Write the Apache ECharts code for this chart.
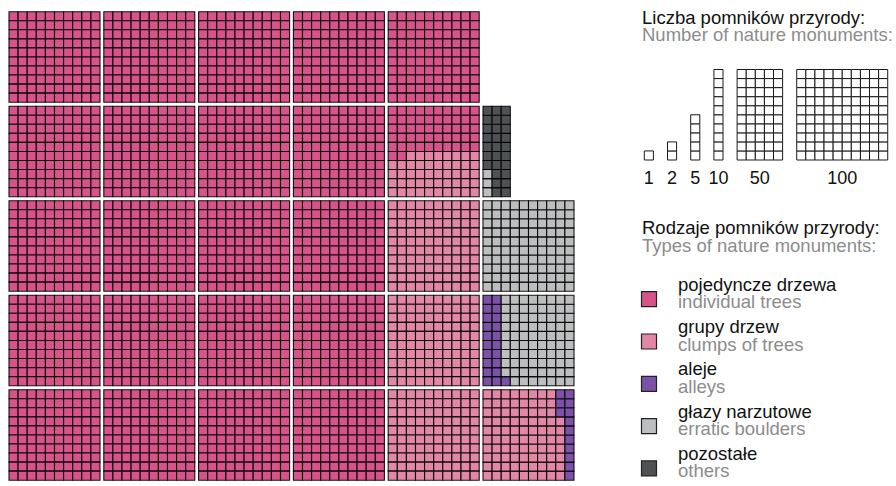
<!DOCTYPE html>
<html>
<head>
<meta charset="utf-8">
<script src="https://cdn.jsdelivr.net/npm/echarts@6/dist/echarts.min.js"></script>
<style>
html, body { margin: 0; padding: 0; background: #fff; }
#chart { width: 896px; height: 486px; }
</style>
</head>
<body>
<div id="chart"></div>
<script>
// kinds of nature monuments, in the order the waffle is filled
const categoriesPl = ['pojedyncze drzewa', 'grupy drzew', 'aleje', 'głazy narzutowe', 'pozostałe'];
const categoriesEn = ['individual trees', 'clumps of trees', 'alleys', 'erratic boulders', 'others'];
const counts = [2152, 435, 34, 182, 27];
const colors = ['#d6548a', '#e287a5', '#7b52a8', '#bdbebf', '#4f5254'];
// size key in the top right corner
const scaleValues = [1, 2, 5, 10, 50, 100];

const FONT = '"Liberation Sans", Arial, sans-serif';
const FS = 18.5;
const W = 896, H = 486;
const UX = 9.1, UY = 9.05;   // px per cell

// slot order: first five block columns top-down (rows inside a block),
// the last block column bottom-up, column by column
function waffleSlots(total) {
    const slots = [];
    const ox = 9 / UX, oy = 11.7 / UY;
    const gx = 3.8 / UX, gy = 4 / UY;
    const pos = (br, bc, r, c) => [ox + bc * (10 + gx) + c, oy + br * (10 + gy) + r];
    for (let bc = 0; bc < 5; bc++)
        for (let br = 0; br < 5; br++)
            for (let r = 0; r < 10; r++)
                for (let c = 0; c < 10; c++) slots.push(pos(br, bc, r, c));
    for (let br = 4; br >= 0; br--)
        for (let c = 0; c < 10; c++)
            for (let r = 9; r >= 0; r--) slots.push(pos(br, 5, r, c));
    return slots.slice(0, total);
}

const slots = waffleSlots(counts.reduce((a, b) => a + b, 0));

function cellItem(color) {
    return function (params, api) {
        const p = api.coord([api.value(0), api.value(1)]);
        const s = api.size([1, 1]);
        return {
            type: 'rect',
            shape: { x: p[0], y: p[1], width: s[0], height: s[1] },
            style: { fill: color, stroke: 'rgba(0,0,0,0.9)', lineWidth: 1.1 }
        };
    };
}

let start = 0;
const waffleSeries = counts.map((n, i) => {
    const data = slots.slice(start, start + n);
    start += n;
    return {
        type: 'custom',
        name: categoriesPl[i],
        coordinateSystem: 'cartesian2d',
        encode: { x: 0, y: 1 },
        data: data,
        silent: true,
        renderItem: cellItem(colors[i])
    };
});

// size key: little stacks of empty cells with their number underneath
const scaleBottom = 160 / UY;
const scaleGap = 1.55;
let sx = 644.3 / UX;
const scaleData = scaleValues.map(v => {
    const item = [v, sx];
    sx += Math.ceil(v / 10) + scaleGap;
    return item;
});

function scaleItem(params, api) {
    const v = api.value(0), x0 = api.value(1);
    const s = api.size([1, 1]);
    const children = [];
    for (let k = 0; k < v; k++) {
        const c = Math.floor(k / 10), r = k % 10;
        const p = api.coord([x0 + c, scaleBottom - r - 1]);
        children.push({
            type: 'rect',
            shape: { x: p[0], y: p[1], width: s[0], height: s[1] },
            style: { fill: '#fff', stroke: '#1a1a1a', lineWidth: 1 }
        });
    }
    const lp = api.coord([x0 + Math.ceil(v / 10) / 2, scaleBottom]);
    children.push({
        type: 'text', x: lp[0], y: lp[1] + 18,
        style: { text: String(v), fontSize: 18, fontFamily: FONT, fill: '#111', align: 'center', verticalAlign: 'middle' }
    });
    return { type: 'group', children: children };
}

// two-line label: Polish in black, English in grey
const richLines = {
    pl: { fontSize: FS, fontFamily: FONT, fill: '#111', lineHeight: 17.5 },
    en: { fontSize: FS, fontFamily: FONT, fill: '#8c8c8c', lineHeight: 17.5 }
};
const twoLines = (pl, en) => '{pl|' + pl + '}\n{en|' + en + '}';

// category key below it
const legendTop = 291.7, legendPitch = 42.3;
function legendItem(params, api) {
    const i = api.value(0);
    const y = legendTop + i * legendPitch;
    return {
        type: 'group',
        children: [
            { type: 'rect', shape: { x: 641.5, y: y, width: 15, height: 15 },
              style: { fill: colors[i], stroke: '#222', lineWidth: 1.2 } },
            { type: 'text', x: 678, y: y + 7.5 - 6.2,
              style: { text: twoLines(categoriesPl[i], categoriesEn[i]), rich: richLines, verticalAlign: 'middle' } }
        ]
    };
}

const option = {
    animation: false,
    grid: { left: 0, right: 0, top: 0, bottom: 0 },
    xAxis: { type: 'value', min: 0, max: W / UX, show: false },
    yAxis: { type: 'value', min: 0, max: H / UY, inverse: true, show: false },
    graphic: [
        { type: 'text', x: 642, y: 25.8,
          style: { text: twoLines('Liczba pomników przyrody:', 'Number of nature monuments:'), rich: richLines, verticalAlign: 'middle' } },
        { type: 'text', x: 642, y: 236.5,
          style: { text: twoLines('Rodzaje pomników przyrody:', 'Types of nature monuments:'), rich: richLines, verticalAlign: 'middle' } }
    ],
    series: waffleSeries.concat([
        {
            type: 'custom', name: 'scale', coordinateSystem: 'cartesian2d',
            encode: { x: 1, y: 0 }, data: scaleData, silent: true, renderItem: scaleItem
        },
        {
            type: 'custom', name: 'key', coordinateSystem: 'cartesian2d',
            data: categoriesPl.map((c, i) => [i]), silent: true, renderItem: legendItem
        }
    ])
};

const chart = echarts.init(document.getElementById('chart'), null, { renderer: 'svg' });
chart.setOption(option);
</script>
</body>
</html>
